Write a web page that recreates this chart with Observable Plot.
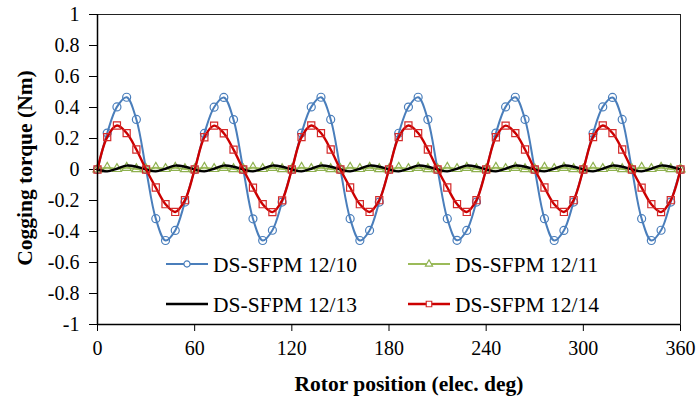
<!DOCTYPE html>
<html>
<head>
<meta charset="utf-8">
<script src="https://cdn.jsdelivr.net/npm/d3@7"></script>
<script src="https://cdn.jsdelivr.net/npm/@observablehq/plot@0.6"></script>
<style>
  body { margin: 0; background: #fff; }
  #chart { width: 700px; height: 402px; }
</style>
</head>
<body>
<div id="chart"></div>
<script>
// ---- data ----
const angles = [0,6,12,18,24,30,36,42,48,54,60,66,72,78,84,90,96,102,108,114,120,126,132,138,144,150,156,162,168,174,180,186,192,198,204,210,216,222,228,234,240,246,252,258,264,270,276,282,288,294,300,306,312,318,324,330,336,342,348,354,360];

const ds1210 = [0,0.235,0.404,0.466,0.323,0,-0.317,-0.458,-0.393,-0.21,
  0,0.233,0.402,0.465,0.322,0,-0.318,-0.458,-0.392,-0.21,
  0,0.235,0.404,0.466,0.323,0,-0.317,-0.458,-0.393,-0.21,
  0,0.234,0.403,0.466,0.322,0,-0.317,-0.457,-0.393,-0.21,
  0,0.235,0.404,0.466,0.323,0,-0.317,-0.458,-0.393,-0.21,
  0,0.234,0.404,0.465,0.323,0,-0.317,-0.458,-0.392,-0.21,
  0];

const ds1211 = [0.002,0.012,0.004,0.012,0.003,0.002,0.012,0.004,0.012,0.003,
  0.002,0.012,0.004,0.012,0.003,0.002,0.012,0.004,0.012,0.003,
  0.002,0.012,0.004,0.012,0.003,0.002,0.012,0.004,0.012,0.003,
  0.002,0.012,0.004,0.012,0.003,0.002,0.012,0.004,0.012,0.003,
  0.002,0.012,0.004,0.012,0.003,0.002,0.012,0.004,0.012,0.003,
  0.002,0.012,0.004,0.012,0.003,0.002,0.012,0.004,0.012,0.003,
  0.002];

const ds1213 = [0,-0.012,0.005,0.025,0.018,0,-0.012,0.005,0.025,0.018,
  0,-0.012,0.005,0.025,0.018,0,-0.012,0.005,0.025,0.018,
  0,-0.012,0.005,0.025,0.018,0,-0.012,0.005,0.025,0.018,
  0,-0.012,0.005,0.025,0.018,0,-0.012,0.005,0.025,0.018,
  0,-0.012,0.005,0.025,0.018,0,-0.012,0.005,0.025,0.018,
  0,-0.012,0.005,0.025,0.018,0,-0.012,0.005,0.025,0.018,
  0];

const ds1214 = [0,0.209,0.284,0.235,0.129,0,-0.116,-0.224,-0.274,-0.198,
  0,0.208,0.283,0.234,0.128,0,-0.117,-0.224,-0.275,-0.199,
  0,0.209,0.284,0.235,0.129,0,-0.116,-0.224,-0.274,-0.198,
  0,0.209,0.284,0.235,0.129,0,-0.116,-0.223,-0.274,-0.198,
  0,0.208,0.283,0.235,0.129,0,-0.116,-0.224,-0.274,-0.198,
  0,0.209,0.284,0.235,0.129,0,-0.117,-0.224,-0.275,-0.198,
  0];

const seriesNames = ["DS-SFPM 12/10", "DS-SFPM 12/11", "DS-SFPM 12/13", "DS-SFPM 12/14"];
const xTicks = [0, 60, 120, 180, 240, 300, 360];
const yTicks = [-1, -0.8, -0.6, -0.4, -0.2, 0, 0.2, 0.4, 0.6, 0.8, 1];
const xTitle = "Rotor position (elec. deg)";
const yTitle = "Cogging torque (Nm)";

// ---- styling (not data) ----
const FONT = "'Liberation Serif', 'Times New Roman', serif";
const styles = [
  {values: ds1210, line: "#4A7EBB", mark: "#4A7EBB", symbol: "circle", r: 4, w: 2},
  {values: ds1211, line: "#9BBB59", mark: "#8FB150", symbol: "triangle", r: 3.4, w: 2},
  {values: ds1213, line: "#000000", mark: null, symbol: null, r: 0, w: 2.4},
  {values: ds1214, line: "#CC0000", mark: "#D42A2A", symbol: "square", r: 4, w: 2.4}
];

const rows = [];
styles.forEach((s, i) => {
  s.values.forEach((v, j) => rows.push({series: seriesNames[i], angle: angles[j], value: v}));
});

const marks = [Plot.frame({stroke: "#222", strokeWidth: 1})];
styles.forEach((s, i) => {
  const data = rows.filter(d => d.series === seriesNames[i]);
  marks.push(Plot.line(data, {x: "angle", y: "value", stroke: s.line, strokeWidth: s.w, curve: "catmull-rom"}));
  if (s.symbol) {
    marks.push(Plot.dot(data, {x: "angle", y: "value", symbol: s.symbol, r: s.r, stroke: s.mark, strokeWidth: 1.2, fill: "none"}));
  }
});
marks.push(Plot.ruleX([xTicks[0]], {stroke: "#000", strokeWidth: 1.5}));
marks.push(Plot.ruleY([yTicks[0]], {stroke: "#000", strokeWidth: 1.5}));

const chart = Plot.plot({
  width: 700,
  height: 402,
  marginLeft: 97,
  marginRight: 20,
  marginTop: 14,
  marginBottom: 78,
  style: {fontFamily: FONT, fontSize: "20px", color: "#000", background: "#fff"},
  x: {domain: [xTicks[0], xTicks[xTicks.length - 1]], ticks: xTicks, tickSize: 7, tickPadding: 9, label: null, tickFormat: d => String(d)},
  y: {domain: [yTicks[0], yTicks[yTicks.length - 1]], ticks: yTicks, tickSize: 8, tickPadding: 10, label: null, tickFormat: d => String(d)},
  marks
});
document.getElementById("chart").appendChild(chart);

// ---- axis titles and legend drawn into the same SVG ----
const svg = d3.select(chart);
svg.append("text")
  .attr("x", 409).attr("y", 383).attr("dy", "0.35em")
  .attr("text-anchor", "middle")
  .attr("font-weight", "bold").attr("font-size", 21.5).attr("fill", "#000")
  .text(xTitle);
svg.append("text")
  .attr("transform", "translate(24,168) rotate(-90)").attr("dy", "0.35em")
  .attr("text-anchor", "middle")
  .attr("font-weight", "bold").attr("font-size", 21.5).attr("fill", "#000")
  .text(yTitle);

const legendPos = [[166, 264], [408, 264], [166, 304], [408, 304]];
const symMap = {circle: d3.symbolCircle, triangle: d3.symbolTriangle, square: d3.symbolSquare};
const lg = svg.append("g").attr("aria-label", "legend").attr("text-anchor", "start");
styles.forEach((s, i) => {
  const [x0, y0] = legendPos[i];
  lg.append("line").attr("x1", x0).attr("x2", x0 + 42).attr("y1", y0).attr("y2", y0)
    .attr("stroke", s.line).attr("stroke-width", s.w);
  if (s.symbol) {
    lg.append("path")
      .attr("d", d3.symbol(symMap[s.symbol], Math.PI * s.r * s.r * 0.6)())
      .attr("transform", `translate(${x0 + 21},${y0})`)
      .attr("fill", "#fff").attr("stroke", s.mark).attr("stroke-width", 1.2);
  }
  lg.append("text").attr("x", x0 + 47).attr("y", y0).attr("dy", "0.35em")
    .attr("text-anchor", "start")
    .attr("font-size", 21.5).attr("fill", "#000").text(seriesNames[i]);
});

// force serif font on every text element
svg.selectAll("text").style("font-family", FONT);
</script>
</body>
</html>
